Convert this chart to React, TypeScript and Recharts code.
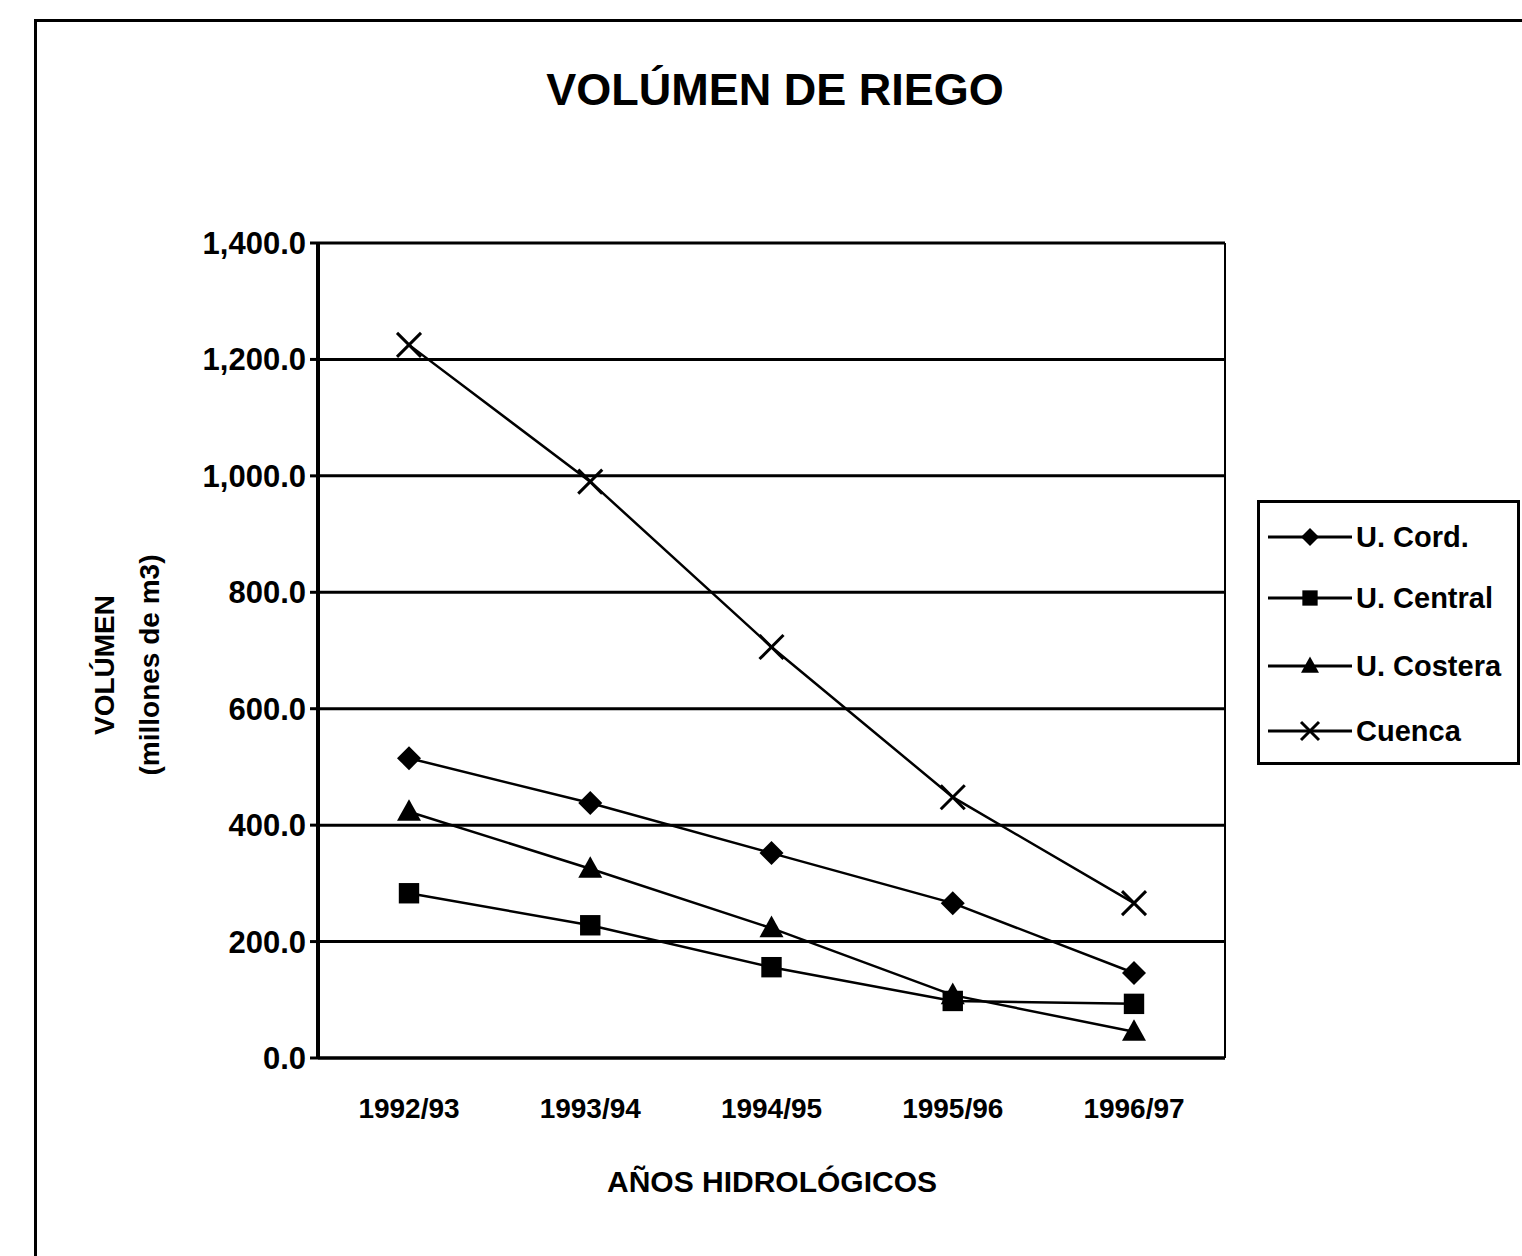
import React from 'react';
import { LineChart, Line, XAxis, YAxis, CartesianGrid, Legend } from 'recharts';

const categories = ['1992/93', '1993/94', '1994/95', '1995/96', '1996/97'];
const cordValues = [515, 438, 352, 266, 146];
const centralValues = [283, 228, 156, 98, 93];
const costeraValues = [423, 325, 223, 108, 45];
const cuencaValues = [1225, 990, 706, 448, 266];
const yTicks = [0, 200, 400, 600, 800, 1000, 1200, 1400];

const series = [
  { key: 'cord', name: 'U. Cord.', shape: 'diamond' },
  { key: 'central', name: 'U. Central', shape: 'square' },
  { key: 'costera', name: 'U. Costera', shape: 'triangle' },
  { key: 'cuenca', name: 'Cuenca', shape: 'x' },
];

const data = categories.map((c, i) => ({
  cat: c,
  cord: cordValues[i],
  central: centralValues[i],
  costera: costeraValues[i],
  cuenca: cuencaValues[i],
}));

const FONT = "'Liberation Sans', Arial, sans-serif";

function Marker({ shape, cx, cy, s }: { shape: string; cx: number; cy: number; s: number }) {
  if (cx == null || cy == null) return null;
  if (shape === 'diamond') {
    return <polygon points={`${cx},${cy - s} ${cx + s},${cy} ${cx},${cy + s} ${cx - s},${cy}`} fill="#000" />;
  }
  if (shape === 'square') {
    const h = s * 0.85;
    return <rect x={cx - h} y={cy - h} width={2 * h} height={2 * h} fill="#000" />;
  }
  if (shape === 'triangle') {
    return <polygon points={`${cx},${cy - s * 1.05} ${cx + s},${cy + s * 0.75} ${cx - s},${cy + s * 0.75}`} fill="#000" />;
  }
  return (
    <g stroke="#000" strokeWidth={3}>
      <line x1={cx - s} y1={cy - s} x2={cx + s} y2={cy + s} />
      <line x1={cx - s} y1={cy + s} x2={cx + s} y2={cy - s} />
    </g>
  );
}

const makeDot = (shape: string) => (props: any) => (
  <Marker key={`${shape}-${props.index}`} shape={shape} cx={props.cx} cy={props.cy} s={12} />
);

const renderLegend = () => (
  <div style={{ width: 263, height: 265, border: '3px solid #000', boxSizing: 'border-box', background: '#fff' }}>
    <svg width={257} height={259}>
      {series.map((s, i) => {
        const y = [34, 95, 163, 228][i];
        return (
          <g key={s.key}>
            <line x1={8} y1={y} x2={92} y2={y} stroke="#000" strokeWidth={3} />
            <Marker shape={s.shape} cx={50} cy={y} s={9} />
            <text x={96} y={y + 10} fontFamily={FONT} fontWeight="bold" fontSize={29} fill="#000">
              {s.name}
            </text>
          </g>
        );
      })}
    </svg>
  </div>
);

export default function App() {
  return (
    <div style={{ position: 'absolute', left: 0, top: 0, width: 1522, height: 1256, background: '#fff', overflow: 'hidden' }}>
      <div style={{ position: 'absolute', left: 34, top: 19, right: -10, bottom: -10, borderTop: '3px solid #000', borderLeft: '3px solid #000' }} />
      <LineChart
        width={1522}
        height={1256}
        data={data}
        margin={{ top: 243, right: 296, bottom: 158, left: 258 }}
        style={{ position: 'absolute', left: 0, top: 0 }}
      >
        <CartesianGrid yAxisId="left" horizontal vertical={false} stroke="#000" strokeWidth={3} />
        <XAxis
          dataKey="cat"
          height={40}
          padding={{ left: 91, right: 91 }}
          tickLine={false}
          tickSize={0}
          tickMargin={40}
          axisLine={{ stroke: '#000', strokeWidth: 3 }}
          tick={{ fontFamily: FONT, fontWeight: 'bold', fontSize: 28, fill: '#000' }}
          interval={0}
        />
        <YAxis
          yAxisId="left"
          width={60}
          domain={[0, 1400]}
          ticks={yTicks}
          interval={0}
          tickFormatter={(v: number) => v.toLocaleString('en-US', { minimumFractionDigits: 1, maximumFractionDigits: 1 })}
          tickSize={8}
          tickMargin={4}
          tickLine={{ stroke: '#000', strokeWidth: 3 }}
          axisLine={{ stroke: '#000', strokeWidth: 4 }}
          tick={{ fontFamily: FONT, fontWeight: 'bold', fontSize: 31, fill: '#000' }}
        />
        <YAxis
          yAxisId="right"
          orientation="right"
          width={1}
          domain={[0, 1400]}
          tick={false}
          tickLine={false}
          axisLine={{ stroke: '#000', strokeWidth: 2 }}
        />
        <Legend layout="vertical" align="center" verticalAlign="middle" content={renderLegend}
          wrapperStyle={{ left: 1257, top: 500, width: 263, height: 265 }} />
        {series.map((s) => (
          <Line
            key={s.key}
            yAxisId="left"
            type="linear"
            dataKey={s.key}
            name={s.name}
            stroke="#000"
            strokeWidth={2.5}
            dot={makeDot(s.shape)}
            activeDot={false}
            isAnimationActive={false}
          />
        ))}
      </LineChart>
      <svg width={1522} height={1256} style={{ position: 'absolute', left: 0, top: 0, pointerEvents: 'none' }}>
        <text x={775} y={105} textAnchor="middle" fontFamily={FONT} fontWeight="bold" fontSize={45} fill="#000">
          VOLÚMEN DE RIEGO
        </text>
        <text x={772} y={1192} textAnchor="middle" fontFamily={FONT} fontWeight="bold" fontSize={30} fill="#000">
          AÑOS HIDROLÓGICOS
        </text>
        <text transform="translate(114,665) rotate(-90)" textAnchor="middle" fontFamily={FONT} fontWeight="bold" fontSize={28} fill="#000">
          VOLÚMEN
        </text>
        <text transform="translate(159,665) rotate(-90)" textAnchor="middle" fontFamily={FONT} fontWeight="bold" fontSize={28} fill="#000">
          (millones de m3)
        </text>
      </svg>
    </div>
  );
}
